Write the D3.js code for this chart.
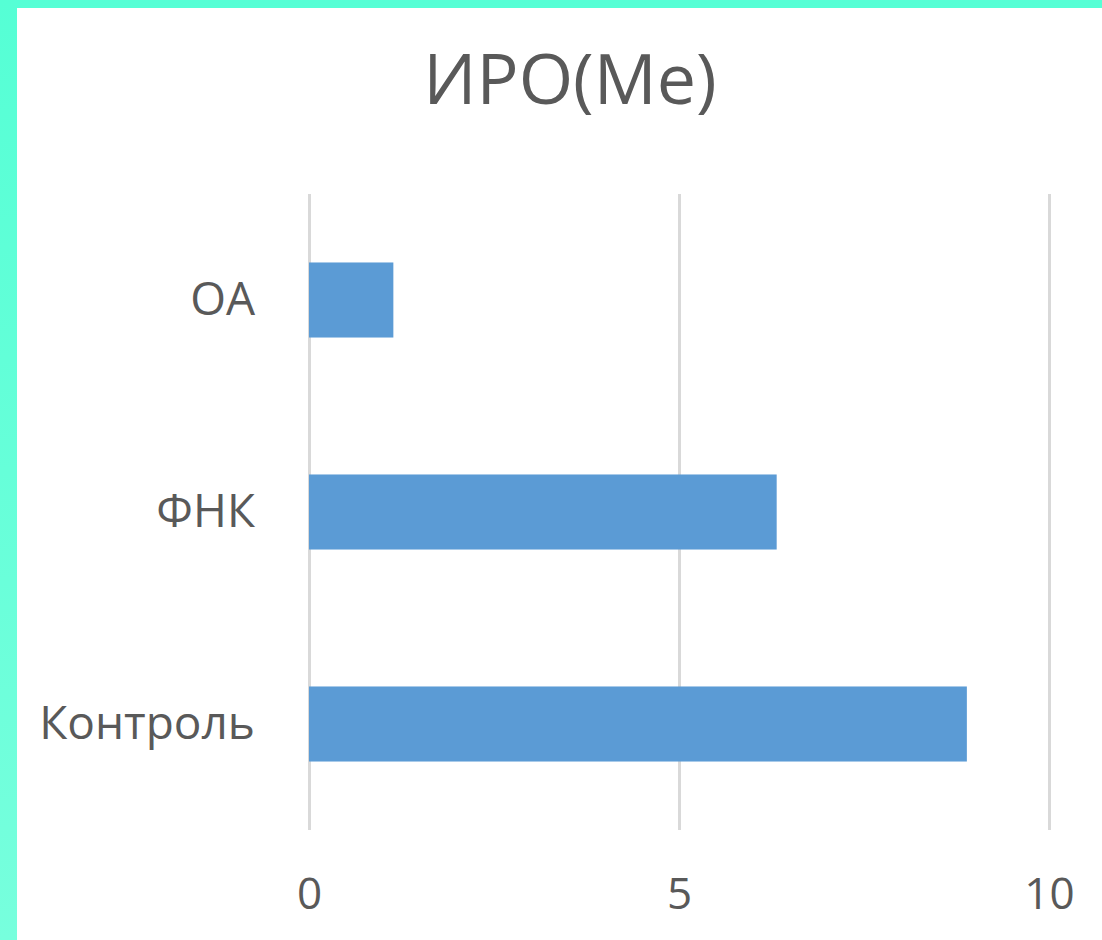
<!DOCTYPE html>
<html><head><meta charset="utf-8">
<script src="https://cdn.jsdelivr.net/npm/d3@7"></script>
<style>html,body{margin:0;padding:0;background:#fff;overflow:hidden}</style>
</head><body>
<svg id="c" width="1102" height="940"></svg>
<script>
const categories = ["ОА", "ФНК", "Контроль"];
const values = [1.14, 6.32, 8.89];
const tickValues = [0, 5, 10];
const title = "ИРО(Me)";

const svg = d3.select("#c");
const W = 1102, H = 940;
const defs = svg.append("defs");
const grad = defs.append("linearGradient").attr("id","bg").attr("x1",0).attr("y1",0).attr("x2",0).attr("y2",1);
grad.append("stop").attr("offset","0%").attr("stop-color","#55ffd5");
grad.append("stop").attr("offset","100%").attr("stop-color","#77ffdd");
svg.append("rect").attr("width",W).attr("height",H).attr("fill","url(#bg)");
svg.append("rect").attr("x",17).attr("y",8).attr("width",W-17).attr("height",H-8).attr("fill","#fff");

const font = "'Open Sans', sans-serif";
const x = d3.scaleLinear().domain([0,10]).range([309,1049]);
const y = d3.scaleBand().domain(categories).range([194,830]).paddingInner(0.646).paddingOuter(0.323);

svg.append("text").attr("x",570).attr("y",104).attr("text-anchor","middle")
  .attr("font-family",font).attr("font-size",70).attr("fill","#595959").text(title);

const gx = svg.append("g").attr("transform","translate(0,830)")
  .call(d3.axisBottom(x).tickValues(tickValues).tickSize(-636).tickPadding(70));
gx.select(".domain").remove();
gx.selectAll(".tick line").attr("stroke","#d9d9d9").attr("stroke-width",3);
gx.selectAll(".tick text").attr("font-family",font).attr("font-size",44).attr("fill","#595959").attr("dy","0.2em");

const gy = svg.append("g").attr("transform","translate(309,0)")
  .call(d3.axisLeft(y).tickSize(0).tickPadding(54));
gy.select(".domain").remove();
gy.selectAll(".tick text").attr("font-family",font).attr("font-size",46).attr("fill","#595959");

svg.append("g").selectAll("rect").data(values).join("rect")
  .attr("x",x(0)).attr("y",(d,i)=>y(categories[i]))
  .attr("width",d=>x(d)-x(0)).attr("height",y.bandwidth())
  .attr("fill","#5b9bd5");
</script>
</body></html>
